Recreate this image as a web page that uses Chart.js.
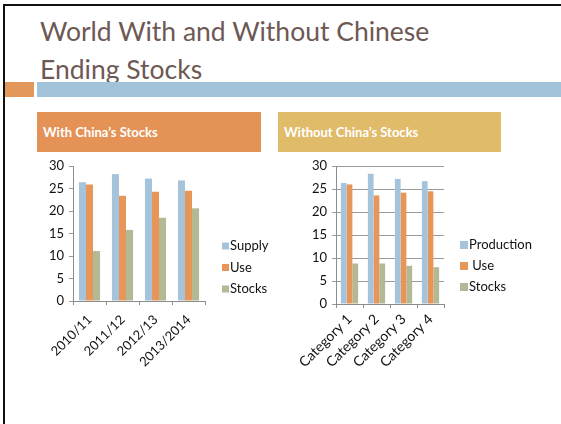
<!DOCTYPE html>
<html>
<head>
<meta charset="utf-8">
<script src="https://cdn.jsdelivr.net/npm/chart.js@4/dist/chart.umd.min.js"></script>
<style>
  html, body { margin: 0; padding: 0; background: #fff; }
  body { width: 561px; height: 424px; position: relative; overflow: hidden; font-family: Lato, "DejaVu Sans", sans-serif; }
  .frame-top { position: absolute; left: 3px; top: 4px; width: 558px; height: 2px; background: #111; }
  .frame-left { position: absolute; left: 3px; top: 4px; width: 2px; height: 420px; background: #111; }
  .title { position: absolute; left: 40px; top: 12px; font-size: 26.5px; line-height: 38px; color: #6e5853; font-weight: 400; }
  .accent { position: absolute; left: 5px; top: 82px; width: 29px; height: 15px; background: #e4975a; }
  .rule { position: absolute; left: 37px; top: 82px; width: 524px; height: 15px; background: #a3c3da; }
  .hdr { position: absolute; top: 112px; height: 40px; color: #fff; font-weight: 700; font-size: 13px; line-height: 40px; padding-left: 6px; box-sizing: border-box; }
  .hdr1 { left: 37px; width: 224px; background: #e49256; }
  .hdr2 { left: 278px; width: 223px; background: #dfbb6a; }
  canvas { position: absolute; }
</style>
</head>
<body>
<div class="frame-top"></div>
<div class="frame-left"></div>
<div class="title">World With and Without Chinese<br>Ending Stocks</div>
<div class="accent"></div>
<div class="rule"></div>
<div class="hdr hdr1">With China’s Stocks</div>
<div class="hdr hdr2">Without China’s Stocks</div>
<canvas id="withChina" width="250" height="230" style="left:30px; top:150px;"></canvas>
<canvas id="withoutChina" width="260" height="230" style="left:290px; top:150px;"></canvas>
<script>
// Marketing years and world balance including China
const seasons = ['2010/11', '2011/12', '2012/13', '2013/2014'];
const supply = [26.4, 28.2, 27.2, 26.8];
const use = [25.9, 23.4, 24.3, 24.5];
const stocks = [11.1, 15.8, 18.5, 20.6];

// Balance excluding China
const categories = ['Category 1', 'Category 2', 'Category 3', 'Category 4'];
const production = [26.3, 28.3, 27.2, 26.7];
const useExChina = [26.0, 23.6, 24.2, 24.5];
const stocksExChina = [8.8, 8.8, 8.3, 8.0];

const yTicks = [0, 5, 10, 15, 20, 25, 30];

const BLUE = '#a5c4dc';
const ORANGE = '#e8955a';
const GREEN = '#b3b994';
const FONT = 'Lato, "DejaVu Sans", sans-serif';

// Legend drawn beside the plot: a small swatch and the series name per dataset
const sideLegend = {
  id: 'sideLegend',
  afterDraw(chart, args, opts) {
    const ctx = chart.ctx;
    const area = chart.chartArea;
    ctx.save();
    ctx.font = '13px ' + FONT;
    ctx.textBaseline = 'middle';
    ctx.textAlign = 'left';
    chart.data.datasets.forEach((ds, i) => {
      const y = area.top + opts.top + i * opts.gap;
      const x = area.right + opts.left;
      ctx.fillStyle = ds.backgroundColor;
      ctx.fillRect(x, y - opts.box / 2, opts.box, opts.box);
      ctx.fillStyle = '#111';
      ctx.fillText(ds.label, x + opts.box + 1, y);
    });
    ctx.restore();
  }
};

function makeChart(id, labels, series, names, cfg) {
  return new Chart(document.getElementById(id), {
    type: 'bar',
    data: {
      labels: labels,
      datasets: series.map((vals, i) => ({
        label: names[i],
        data: vals,
        backgroundColor: [BLUE, ORANGE, GREEN][i],
        borderWidth: 0,
        categoryPercentage: 0.64,
        barPercentage: 1.0
      }))
    },
    options: {
      responsive: false,
      animation: false,
      devicePixelRatio: 1,
      layout: { padding: { top: 16, right: cfg.rightPad, left: 0, bottom: 0 } },
      plugins: {
        legend: { display: false },
        tooltip: { enabled: false },
        sideLegend: cfg.legend
      },
      scales: {
        x: {
          grid: { display: true, drawOnChartArea: false, drawTicks: true, tickLength: 4, color: '#8c8c8c', offset: true },
          border: { display: true, color: '#8c8c8c', width: 1 },
          ticks: { color: '#111', font: { family: FONT, size: cfg.xFont }, minRotation: 45, maxRotation: 45, padding: cfg.xPad, autoSkip: false },
          afterFit(scale) { scale.height = cfg.xHeight; }
        },
        y: {
          min: 0, max: 30,
          afterBuildTicks(scale) { scale.ticks = yTicks.map(v => ({ value: v })); },
          grid: { display: true, drawOnChartArea: cfg.gridlines, drawTicks: true, tickLength: 4, color: '#9a9a9a' },
          border: { display: true, color: '#8c8c8c', width: 1 },
          ticks: { color: '#111', font: { family: FONT, size: 13 }, padding: 5 },
          afterFit(scale) { scale.width = cfg.yWidth; }
        }
      }
    },
    plugins: [sideLegend]
  });
}

makeChart('withChina', seasons, [supply, use, stocks], ['Supply', 'Use', 'Stocks'], {
  rightPad: 75, xHeight: 79, yWidth: 43, gridlines: false, xFont: 13, xPad: 7,
  legend: { left: 17, top: 80, gap: 21.5, box: 7 }
});

makeChart('withoutChina', categories, [production, useExChina, stocksExChina], ['Production', ' Use', 'Stocks'], {
  rightPad: 106, xHeight: 76, yWidth: 46, gridlines: true, xFont: 14, xPad: 3,
  legend: { left: 16, top: 79, gap: 21, box: 8 }
});
</script>
</body>
</html>
